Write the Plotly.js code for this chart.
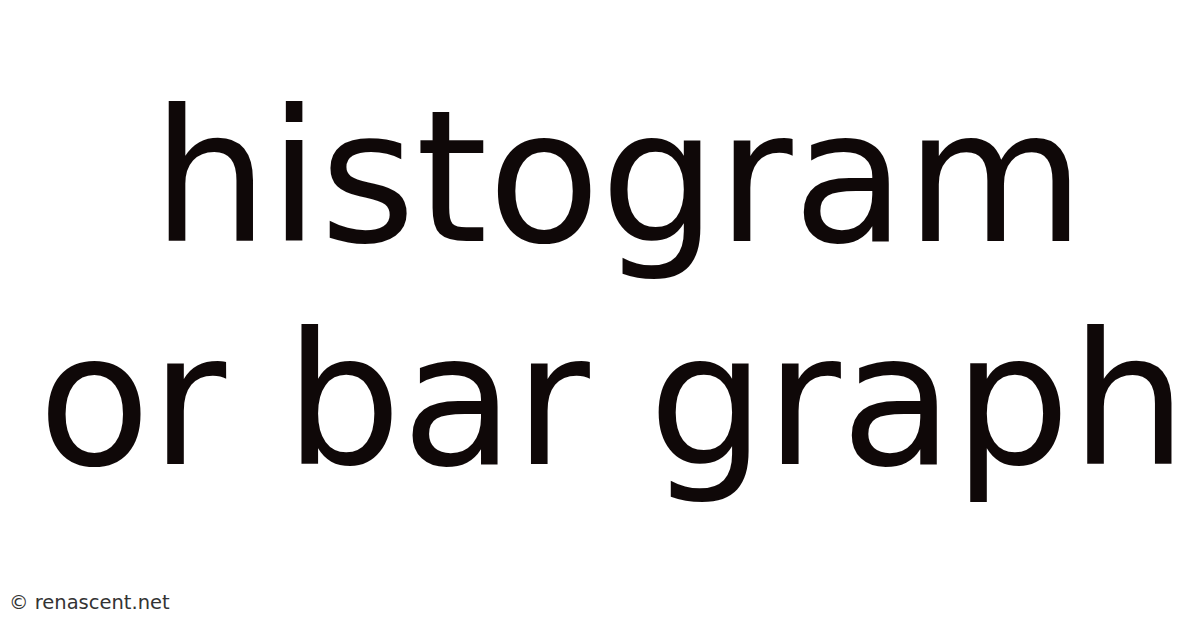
<!DOCTYPE html>
<html>
<head>
<meta charset="utf-8">
<script src="https://cdn.plot.ly/plotly-3.0.1.min.js"></script>
<style>
  html, body { margin: 0; padding: 0; background: #ffffff; }
  #chart { width: 1200px; height: 628px; }
</style>
</head>
<body>
<div id="chart"></div>
<script>
// text lines of the title card, and where their centres sit (paper coords)
var titleLines = ['histogram', 'or bar graph'];
var titleX = [0.515, 0.5105];
var titleY = [0.7175, 0.363];
var footerText = '© renascent.net';

var ink = '#0f0808';

var annotations = titleLines.map(function (line, i) {
  return {
    text: line,
    xref: 'paper', yref: 'paper',
    x: titleX[i], y: titleY[i],
    xanchor: 'center', yanchor: 'middle',
    showarrow: false,
    font: { family: 'DejaVu Sans', size: 184, color: ink }
  };
});

annotations.push({
  text: footerText,
  xref: 'paper', yref: 'paper',
  x: 0.006, y: 0.041,
  xanchor: 'left', yanchor: 'middle',
  showarrow: false,
  font: { family: 'DejaVu Sans', size: 19.5, color: '#333333' }
});

var layout = {
  width: 1200,
  height: 628,
  margin: { l: 0, r: 0, t: 0, b: 0 },
  paper_bgcolor: '#ffffff',
  plot_bgcolor: '#ffffff',
  xaxis: { visible: false, range: [0, 1] },
  yaxis: { visible: false, range: [0, 1] },
  showlegend: false,
  annotations: annotations
};

window.addEventListener('load', (event) => {
  Plotly.newPlot('chart', [], layout, { staticPlot: true });
});
</script>
</body>
</html>
